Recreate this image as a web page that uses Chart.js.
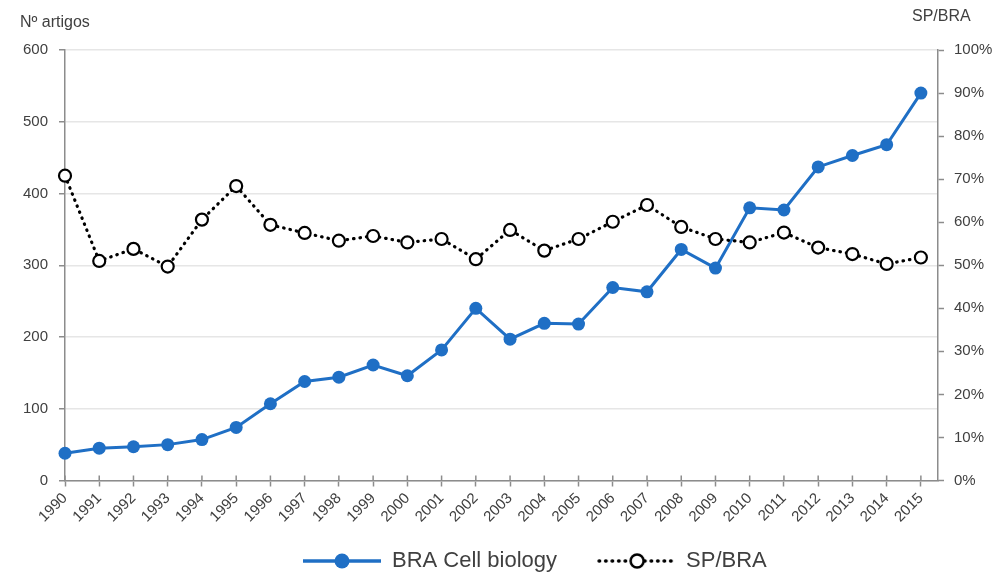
<!DOCTYPE html>
<html><head><meta charset="utf-8">
<script src="https://cdn.jsdelivr.net/npm/chart.js@4.4.1/dist/chart.umd.min.js"></script>
<style>html,body{margin:0;padding:0;background:#fff;} #wrap{width:1000px;height:574px;position:relative;}</style>
</head><body><div id="wrap"><canvas id="c" width="1000" height="574"></canvas></div>
<script>
const years = [1990,1991,1992,1993,1994,1995,1996,1997,1998,1999,2000,2001,2002,2003,2004,2005,2006,2007,2008,2009,2010,2011,2012,2013,2014,2015];
const cellBiology = [38,45,47,50,57,74,107,138,144,161,146,182,240,197,219,218,269,263,322,296,380,377,437,453,468,540];
const spBra = [70.8,51.0,53.8,49.7,60.6,68.4,59.4,57.5,55.7,56.8,55.3,56.1,51.4,58.2,53.4,56.1,60.1,64.0,58.9,56.1,55.3,57.6,54.1,52.6,50.3,51.8];
const leftTicks = [0,100,200,300,400,500,600];
const rightTicks = [0,10,20,30,40,50,60,70,80,90,100];
const seriesNames = ['BRA Cell biology','SP/BRA'];
const axisTitles = ['Nº artigos','SP/BRA'];

const BLUE = '#1F6FC5';
const GRID = '#E6E6E6';
const AXIS = '#8C8C8C';
const TEXT = '#404040';
const FONT = '"Liberation Sans", Arial, sans-serif';
const SW_W = 100, SW_M = 22;

function makeSwatch(kind){
  const c = document.createElement('canvas');
  c.width = SW_W; c.height = 24;
  const g = c.getContext('2d');
  if (kind === 0){
    g.strokeStyle = BLUE; g.lineWidth = 3.5;
    g.beginPath(); g.moveTo(SW_M,12); g.lineTo(SW_W,12); g.stroke();
    g.fillStyle = BLUE; g.beginPath(); g.arc(SW_M+39,12,7.5,0,Math.PI*2); g.fill();
  } else {
    g.strokeStyle = '#000'; g.lineWidth = 3.5; g.lineCap = 'round';
    g.setLineDash([0.5,6]);
    g.beginPath(); g.moveTo(SW_M+2,12); g.lineTo(SW_W-2,12); g.stroke();
    g.setLineDash([]);
    g.fillStyle = '#fff'; g.lineWidth = 2.5;
    g.beginPath(); g.arc(SW_M+40,12,6.5,0,Math.PI*2); g.fill(); g.stroke();
  }
  return c;
}
const swatches = [makeSwatch(0), makeSwatch(1)];

const LEG_FONT = 22, LEG_PAD = 18;
const legendPlace = {
  id: 'legendPlace',
  afterLayout(chart){
    const l = chart.legend;
    if (!l || !l.lineWidths) return;
    const lw = l.lineWidths[0];
    const targetX = 303 - SW_M;
    l.left = 2*targetX - LEG_PAD - l.right + lw;
    const h = l.bottom - l.top;
    l.top = 561 - LEG_PAD - LEG_FONT/2;
    l.bottom = l.top + h;
  }
};

const axisTitlePlugin = {
  id: 'axisTitlePlugin',
  beforeDatasetsDraw(chart){
    // small inner half of the category tick marks (they cross the axis line)
    const ctx = chart.ctx, xs = chart.scales.x;
    ctx.save();
    ctx.strokeStyle = AXIS; ctx.lineWidth = 1.5;
    years.forEach(v => {
      const px = xs.getPixelForValue(v);
      ctx.beginPath(); ctx.moveTo(px, xs.top - 5); ctx.lineTo(px, xs.top); ctx.stroke();
    });
    ctx.restore();
  },
  afterDraw(chart){
    const ctx = chart.ctx;
    ctx.save();
    ctx.font = '16px ' + FONT;
    ctx.fillStyle = TEXT;
    ctx.textBaseline = 'middle';
    ctx.textAlign = 'left';
    ctx.fillText(axisTitles[0], 20, 23);
    ctx.fillText(axisTitles[1], 912, 17);
    ctx.restore();
  }
};

new Chart(document.getElementById('c'), {
  type: 'line',
  data: {
    datasets: [
      {
        label: seriesNames[0],
        data: years.map((yr,i)=>({x: yr, y: cellBiology[i]})),
        yAxisID: 'y', clip: false,
        borderColor: BLUE, backgroundColor: BLUE,
        borderWidth: 3, pointRadius: 6.5, pointBackgroundColor: BLUE,
        pointBorderColor: BLUE, pointBorderWidth: 0, tension: 0, order: 2
      },
      {
        label: seriesNames[1],
        data: years.map((yr,i)=>({x: yr, y: spBra[i]})),
        yAxisID: 'y1', clip: false,
        borderColor: '#000', backgroundColor: '#fff',
        borderWidth: 3.2, borderDash: [0.5, 6], borderCapStyle: 'round',
        pointRadius: 6, pointBackgroundColor: '#fff', pointBorderColor: '#000',
        pointBorderWidth: 2.2, tension: 0, order: 1
      }
    ]
  },
  options: {
    responsive: false, animation: false, devicePixelRatio: 1,
    layout: { padding: { top: 50, left: 0, right: 0, bottom: 0 } },
    plugins: {
      tooltip: { enabled: false },
      legend: {
        position: 'bottom',
        labels: {
          usePointStyle: true, pointStyleWidth: SW_W, padding: LEG_PAD,
          font: { family: FONT, size: LEG_FONT }, color: TEXT,
          generateLabels: () => seriesNames.map((n,i)=>({
            text: n, pointStyle: swatches[i], fontColor: TEXT, datasetIndex: i,
            lineWidth: 0, hidden: false
          }))
        }
      }
    },
    scales: {
      x: {
        type: 'linear', min: years[0], max: years[years.length-1] + 0.5,
        afterBuildTicks: s => { s.ticks = years.map(v => ({value: v})); },
        afterFit: s => { s.height = 43.5; },
        ticks: {
          autoSkip: false, minRotation: 45, maxRotation: 45, padding: 3,
          color: TEXT, font: { family: FONT, size: 15 },
          callback: v => String(v)
        },
        grid: { drawOnChartArea: false, tickLength: 6, tickColor: AXIS, tickWidth: 1.5 },
        border: { color: AXIS, width: 1.5 }
      },
      y: {
        position: 'left', min: 0, max: 600,
        afterBuildTicks: s => { s.ticks = leftTicks.map(v => ({value: v})); },
        afterFit: s => { s.width = 65; },
        ticks: { padding: 11, color: TEXT, font: { family: FONT, size: 15 } },
        grid: { color: GRID, lineWidth: 1.5, tickLength: 6, tickColor: AXIS, tickWidth: 1.5 },
        border: { color: AXIS, width: 1.5 }
      },
      y1: {
        position: 'right', min: 0, max: 100,
        afterBuildTicks: s => { s.ticks = rightTicks.map(v => ({value: v})); },
        afterFit: s => { s.width = 62; },
        ticks: { padding: 10, color: TEXT, font: { family: FONT, size: 15 }, callback: v => v + '%' },
        grid: { drawOnChartArea: false, tickLength: 6, tickColor: AXIS, tickWidth: 1.5 },
        border: { color: AXIS, width: 1.5 }
      }
    }
  },
  plugins: [legendPlace, axisTitlePlugin]
});
</script>
</body></html>
